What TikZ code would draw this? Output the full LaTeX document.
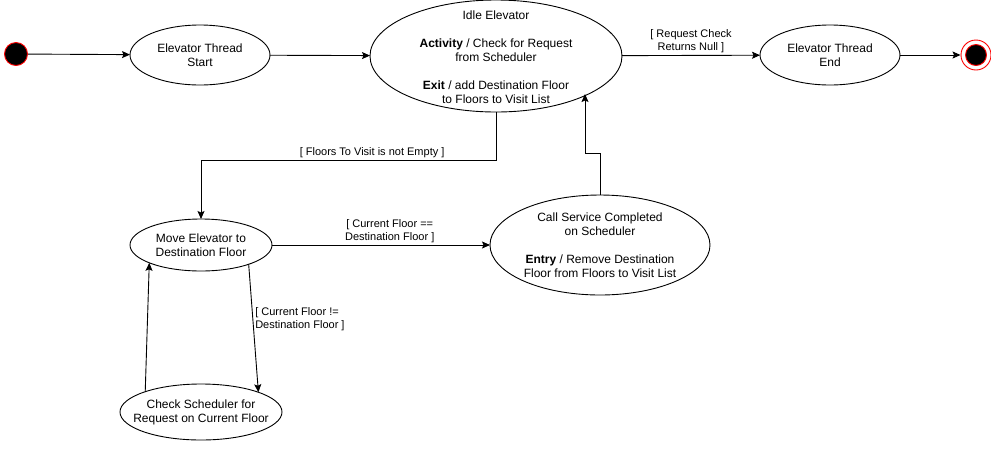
\documentclass[tikz,border=0pt]{standalone}
\usepackage{fontspec}
\setmainfont{Liberation Sans}
\usetikzlibrary{shapes,arrows.meta}

\begin{document}
\begin{tikzpicture}[x=1pt,y=-1pt,->,>={Stealth[length=8pt,width=7pt,inset=1.5pt]},line width=0.9pt]
\tikzstyle{elev state} = [ellipse, draw, fill=white, inner sep=0pt, outer sep=0pt]
\tikzstyle{elev text} = [align=center, inner sep=0pt, font=\fontsize{12}{14}\selectfont]
\tikzstyle{guard} = [align=center, inner sep=2pt, font=\fontsize{11}{13}\selectfont]
\useasboundingbox (0,0) rectangle (991,451);
\node[circle, draw=red, fill=black, minimum size=23pt, inner sep=0pt] (init) at (16,54) {};
\node[elev state, minimum width=140pt, minimum height=60pt] (ts) at (200,55) {};
\node[elev text] (ts-t) at (ts) {Elevator Thread\\Start};
\node[elev state, minimum width=252pt, minimum height=112pt] (idle) at (496,56) {};
\node[elev text] (idle-t) at ([yshift=-1pt]idle) {Idle Elevator\\[14pt]\textbf{Activity} / Check for Request\\from Scheduler\\[14pt]\textbf{Exit} / add Destination Floor\\to Floors to Visit List};
\node[elev state, minimum width=140pt, minimum height=60pt] (te) at (830,55) {};
\node[elev text] (te-t) at (te) {Elevator Thread\\End};
\node[circle, draw=red, fill=white, minimum size=30pt, inner sep=0pt] (fin) at (976,55) {};
\node[circle, draw=red, fill=black, minimum size=21pt, inner sep=0pt] (fin-dot) at (fin) {};
\node[elev state, minimum width=142pt, minimum height=52pt] (move) at (201,245) {};
\node[elev text] (move-t) at (move) {Move Elevator to\\Destination Floor};
\node[elev state, minimum width=220pt, minimum height=100pt] (call) at (600,245) {};
\node[elev text] (call-t) at (call) {Call Service Completed\\on Scheduler\\[14pt]\textbf{Entry} / Remove Destination\\Floor from Floors to Visit List};
\node[elev state, minimum width=162pt, minimum height=56pt] (check) at (201,412) {};
\node[elev text] (check-t) at (check) {Check Scheduler for\\Request on Current Floor};
\coordinate (idle-in) at (585,94);
\path (init) edge (ts)
      (ts) edge (idle)
      (idle) edge node[guard,above]{[ Request Check\\Returns Null ]} (te)
      (te) edge (fin)
      (move) edge node[guard,above,pos=0.54]{[ Current Floor ==\\Destination Floor ]} (call)
      (move.-22) edge node[guard,right,align=left,pos=0.43]{[ Current Floor !=\\Destination Floor ]} (check.19)
      (check.160) edge (move.199);
\draw (idle.south) -- ++(0,48) -| node[guard,above,pos=0.21]{[ Floors To Visit is not Empty ]} (move.north);
\draw (call.north) -- ++(0,-42) -- ++(-15,0) -- (idle-in);
\end{tikzpicture}
\end{document}
